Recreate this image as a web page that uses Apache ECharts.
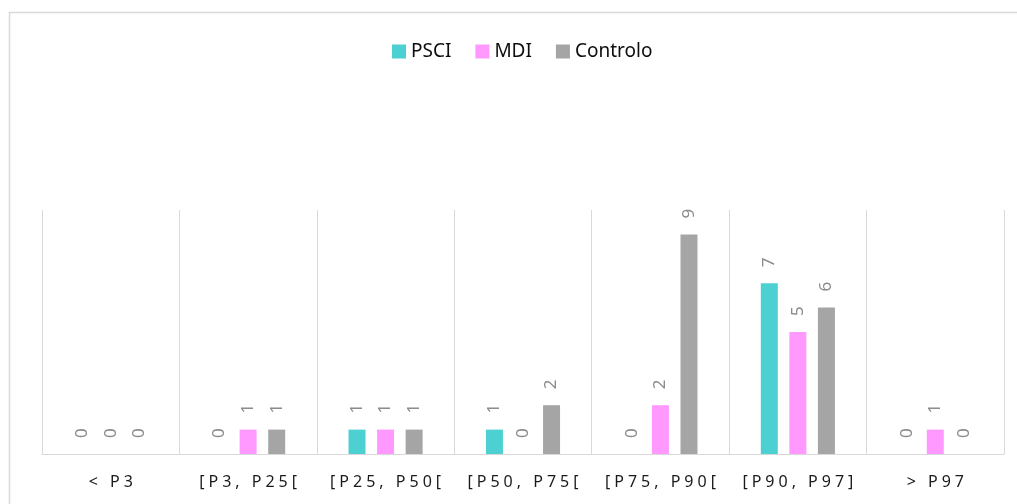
<!DOCTYPE html>
<html>
<head>
<meta charset="utf-8">
<script src="https://cdn.jsdelivr.net/npm/echarts@6/dist/echarts.min.js"></script>
<style>
  html, body { margin: 0; padding: 0; background: #fff; }
  #chart { width: 1017px; height: 504px; }
</style>
</head>
<body>
<div id="chart"></div>
<script>
var categories = ['< P3', '[P3, P25[', '[P25, P50[', '[P50, P75[', '[P75, P90[', '[P90, P97]', '> P97'];
var psci = [0, 0, 1, 1, 0, 7, 0];
var mdi = [0, 1, 1, 0, 2, 5, 1];
var controlo = [0, 1, 1, 2, 9, 6, 0];

var myChart = echarts.init(document.getElementById('chart'));

// excel-like wide letter spacing on the category labels
function spaced(s) {
  return s.split('').join('\u2005');
}

var barLabel = {
  show: true,
  position: 'top',
  rotate: 90,
  align: 'left',
  verticalAlign: 'middle',
  distance: 16,
  fontFamily: 'Noto Sans',
  fontSize: 17,
  color: '#8c8c8c'
};

function makeSeries(name, data, color) {
  return {
    name: name,
    type: 'bar',
    data: data,
    barWidth: 17,
    barGap: '68%',
    itemStyle: { color: color },
    label: barLabel
  };
}

var option = {
  animation: false,
  backgroundColor: '#fff',
  graphic: [{
    type: 'rect',
    shape: { x: 9.5, y: 12.5, width: 1100, height: 600 },
    style: { fill: 'none', stroke: '#d9d9d9', lineWidth: 1.5 },
    silent: true
  }],
  legend: {
    left: 392,
    top: 42,
    padding: 0,
    itemWidth: 14,
    itemHeight: 14,
    itemGap: 24,
    icon: 'rect',
    textStyle: { fontFamily: 'Noto Sans', fontSize: 19, color: '#0d0d0d' },
    data: ['PSCI', 'MDI', 'Controlo']
  },
  grid: { left: 42, right: 13, top: 210, bottom: 50 },
  xAxis: {
    type: 'category',
    data: categories,
    axisLine: { lineStyle: { color: '#d9d9d9', width: 1 } },
    axisTick: { show: false },
    splitLine: { show: true, lineStyle: { color: '#d9d9d9', width: 1 } },
    axisLabel: {
      interval: 0,
      margin: 20,
      fontFamily: 'Noto Sans',
      fontSize: 16,
      color: '#1a1a1a',
      formatter: spaced
    }
  },
  yAxis: {
    type: 'value',
    min: 0,
    max: 10,
    show: false
  },
  series: [
    makeSeries('PSCI', psci, '#4dd0d2'),
    makeSeries('MDI', mdi, '#ff99ff'),
    makeSeries('Controlo', controlo, '#a5a5a5')
  ]
};

myChart.setOption(option);
</script>
</body>
</html>
